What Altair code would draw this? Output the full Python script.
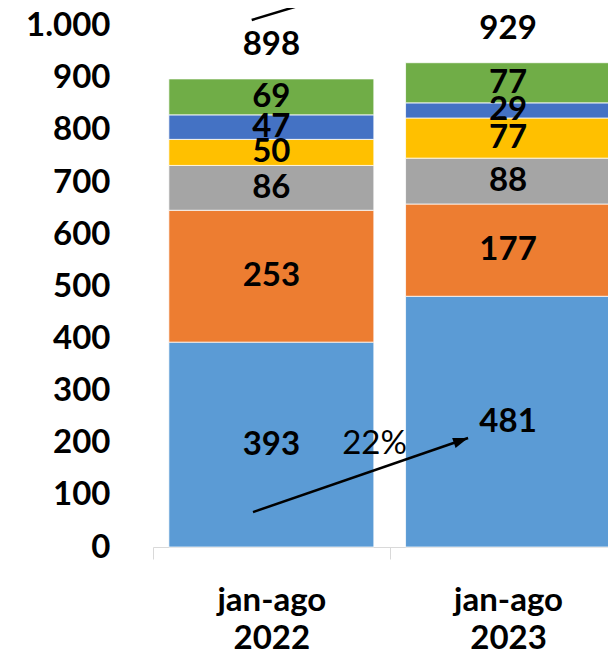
import altair as alt
import pandas as pd

# ---- data ----
categories = ["jan-ago 2022", "jan-ago 2023"]
series = ["Série 1", "Série 2", "Série 3", "Série 4", "Série 5", "Série 6"]
colors = ["#5B9BD5", "#ED7D31", "#A5A5A5", "#FFC000", "#4472C4", "#70AD47"]
vals_2022 = [393, 253, 86, 50, 47, 69]
vals_2023 = [481, 177, 88, 77, 29, 77]
y_ticks = [0, 100, 200, 300, 400, 500, 600, 700, 800, 900, 1000]

growth_label = ["22%"]
growth_x = [0.936]      # in category-step units
growth_y = [197.6]
arrow_x = [0.4225, 1.331]
arrow_y = [67, 209]
top_arrow_x = [0.417, 1.327]
top_arrow_y = [1011, 1136]

# ---- build tables ----
rows = []
for cat, vals in zip(categories, [vals_2022, vals_2023]):
    start = 0
    for i, (s, v) in enumerate(zip(series, vals)):
        rows.append({"category": cat, "series": s, "order": i, "value": v,
                     "start": start, "end": start + v, "mid": start + v / 2})
        start += v
df = pd.DataFrame(rows)
totals = df.groupby("category", as_index=False)["value"].sum().rename(columns={"value": "total"})

arrow_df = pd.DataFrame({"ax": arrow_x, "ay": arrow_y})
head_df = pd.DataFrame({"ax": arrow_x[-1:], "ay": arrow_y[-1:]})
top_df = pd.DataFrame({"ax": top_arrow_x, "ay": top_arrow_y})
growth_df = pd.DataFrame({"gx": growth_x, "gy": growth_y, "label": growth_label})

FONT = "Lato"
FS = 33
RANGE = [0, 473.4]

xs = alt.Scale(domain=categories, range=RANGE, paddingInner=0, paddingOuter=0)
ys = alt.Scale(domain=[0, 1034], nice=False, zero=True)
xq = alt.Scale(domain=[0, 2], range=RANGE)

x_axis = alt.Axis(
    title=None, labelExpr="split(datum.label, ' ')", labelAngle=0,
    labelFont=FONT, labelFontSize=FS, labelFontWeight="bold", labelColor="black",
    labelLineHeight=38, labelBaseline="middle", labelPadding=41,
    tickSize=12, tickBand="extent", tickColor="#D9D9D9", tickWidth=1,
    domainColor="#D9D9D9", domainWidth=1, grid=False,
)
y_axis = alt.Axis(
    title=None, values=y_ticks,
    labelExpr="replace(format(datum.value, ','), ',', '.')",
    labelFont=FONT, labelFontSize=FS, labelFontWeight="bold", labelColor="black",
    ticks=False, domain=False, grid=False, labelPadding=43,
)

base = alt.Chart(df)
bars = base.mark_bar(stroke="white", strokeWidth=0.75, width=alt.RelativeBandSize(0.866)).encode(
    x=alt.X("category:N", scale=xs, sort=categories, axis=x_axis),
    y=alt.Y("start:Q", scale=ys, axis=y_axis),
    y2="end:Q",
    color=alt.Color("series:N", scale=alt.Scale(domain=series, range=colors), legend=None),
    order="order:Q",
)
seg_labels = base.mark_text(font=FONT, fontSize=FS, fontWeight="bold", color="black",
                            baseline="middle").encode(
    x=alt.X("category:N", scale=xs, sort=categories, axis=x_axis),
    y=alt.Y("mid:Q", scale=ys, axis=y_axis),
    text="value:Q",
)
tot_labels = alt.Chart(totals).mark_text(font=FONT, fontSize=FS, fontWeight="bold",
                                         color="black", baseline="middle", dy=-34).encode(
    x=alt.X("category:N", scale=xs, sort=categories, axis=x_axis),
    y=alt.Y("total:Q", scale=ys, axis=y_axis),
    text="total:Q",
)

main = alt.layer(bars, seg_labels, tot_labels)

arrow = alt.Chart(arrow_df).mark_line(color="black", strokeWidth=2.5).encode(
    x=alt.X("ax:Q", scale=xq, axis=None),
    y=alt.Y("ay:Q", scale=ys, axis=y_axis),
)
head = alt.Chart(head_df).mark_point(
    shape="M0,0L1.4,4L-1.4,4Z", filled=True, size=56, angle=71, color="black", opacity=1
).encode(
    x=alt.X("ax:Q", scale=xq, axis=None),
    y=alt.Y("ay:Q", scale=ys, axis=y_axis),
)
top_arrow = alt.Chart(top_df).mark_line(color="black", strokeWidth=2.5).encode(
    x=alt.X("ax:Q", scale=xq, axis=None),
    y=alt.Y("ay:Q", scale=ys, axis=y_axis),
)
growth = alt.Chart(growth_df).mark_text(font=FONT, fontSize=FS, fontWeight="normal",
                                        color="black", baseline="middle").encode(
    x=alt.X("gx:Q", scale=xq, axis=None),
    y=alt.Y("gy:Q", scale=ys, axis=y_axis),
    text="label:N",
)
annot = alt.layer(arrow, head, top_arrow, growth)

chart = alt.layer(main, annot).resolve_scale(x="independent").properties(
    width=455, height=539,
    autosize=alt.AutoSizeParams(type="none"),
    padding={"left": 145, "top": 0, "right": 0, "bottom": 102},
    background="white",
).configure_view(stroke=None)

chart.save("out.html", embed_options={"renderer": "svg", "actions": False})
